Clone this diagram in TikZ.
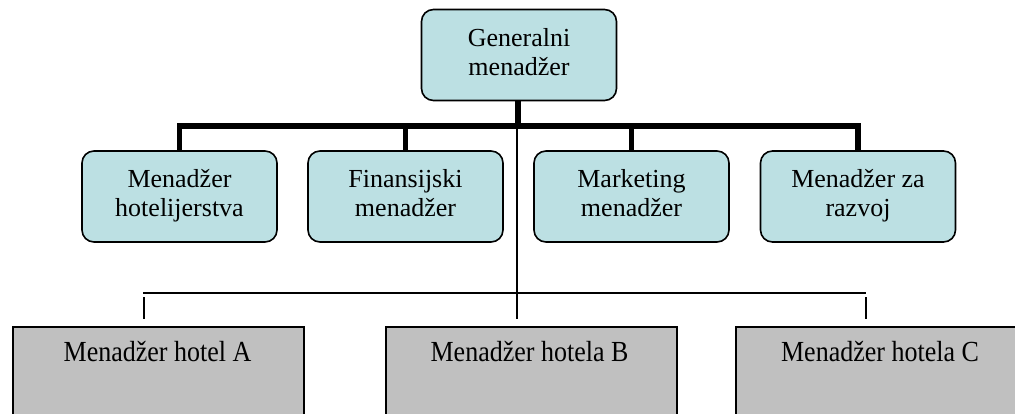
\documentclass[tikz,border=0pt]{standalone}
\usepackage{fontspec}
\usepackage{graphicx}
\setmainfont{Liberation Serif}
\definecolor{rolefill}{HTML}{BCE0E3}
\definecolor{unitfill}{HTML}{C0C0C0}
% fixed line metrics so every two-line label sits at the same height
\newcommand{\mgrTop}{\rule{0pt}{17pt}}
\newcommand{\mgrBot}{\rule[-7pt]{0pt}{7pt}}
\newcommand{\unitTitle}[1]{\scalebox{1}[1.12]{#1}}
\begin{document}
\begin{tikzpicture}[x=1pt,y=-1pt,
  label text/.style={font=\fontsize{26}{29}\selectfont},
  role/.style={draw, line width=1.6pt, rounded corners=12pt, fill=rolefill,
    minimum width=195pt, minimum height=91pt, inner sep=0pt, align=center,
    label text},
  unit/.style={draw, line width=1.6pt, fill=unitfill, anchor=north west,
    minimum width=291pt, minimum height=110pt, inner sep=0pt},
  unit title/.style={label text, anchor=base, inner sep=0pt},
  trunk/.style={line width=5.5pt, line join=miter},
  link/.style={line width=1.7pt}
]
\useasboundingbox (0,0) rectangle (1015,413);
\clip (0,0) rectangle (1015,413);

% management level
\node[role] (gm)  at (519,55)      {\mgrTop Generalni\\menadžer\mgrBot};
\node[role] (hot) at (179.5,196.5) {\mgrTop Menadžer\\hotelijerstva\mgrBot};
\node[role] (fin) at (405.5,196.5) {\mgrTop Finansijski\\menadžer\mgrBot};
\node[role] (mkt) at (631.5,196.5) {\mgrTop Marketing\\menadžer\mgrBot};
\node[role] (raz) at (858,196.5)   {\mgrTop Menadžer za\\razvoj\mgrBot};

% hotel units (boxes run past the lower edge)
\node[unit] (ha) at (12,326)  {};
\node[unit] (hb) at (385,326) {};
\node[unit] (hc) at (735,326) {};
\node[unit title] (ta) at (157.5,361) {\unitTitle{Menadžer hotel A}};
\node[unit title] (tb) at (529.5,361) {\unitTitle{Menadžer hotela B}};
\node[unit title] (tc) at (880,361)   {\unitTitle{Menadžer hotela C}};

% thick bus between the general manager and the department heads
\coordinate (bus) at (518,126);
\draw[trunk] (hot.north) -- (hot.north |- bus) -- (raz.north |- bus) -- (raz.north);
\draw[trunk] (gm.south -| bus) -- (bus);
\draw[trunk] (fin.north) -- (fin.north |- bus);
\draw[trunk] (mkt.north) -- (mkt.north |- bus);

% thin lines down to the hotels
\coordinate (hub) at (517,293);
\coordinate (ea) at (144,319);
\coordinate (eb) at (517,319);
\coordinate (ec) at (866,319);
\draw[link] (bus -| hub) -- (eb);
\draw[link] (143,293) -- (866,293);
\draw[link] (144,297) -- (ea);
\draw[link] (866,297) -- (ec);
\end{tikzpicture}
\end{document}
